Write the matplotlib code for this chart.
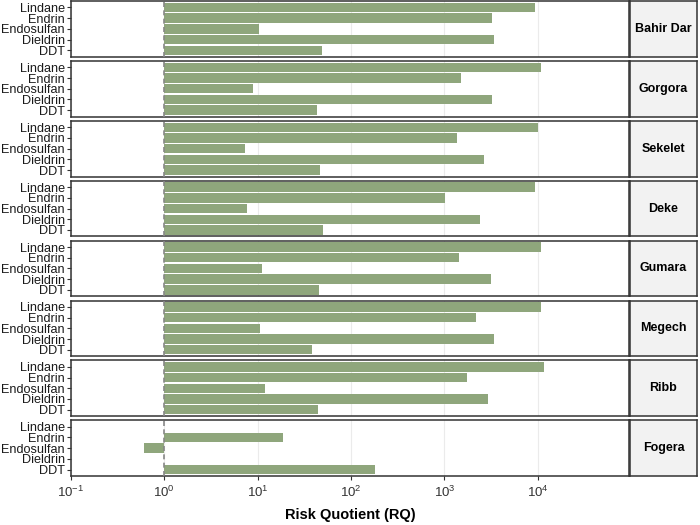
import numpy as np
import matplotlib
matplotlib.use("Agg")
import matplotlib.pyplot as plt

plt.rcParams['font.family'] = ['Liberation Sans', 'DejaVu Sans']
plt.rcParams['mathtext.fontset'] = 'custom'
plt.rcParams['mathtext.rm'] = 'Liberation Sans'
plt.rcParams['mathtext.it'] = 'Liberation Sans'

# sites (facet rows, top to bottom)
sites = ["Bahir Dar", "Gorgora", "Sekelet", "Deke", "Gumara", "Megech", "Ribb", "Fogera"]
# pesticides, bottom to top within each panel
pesticides = ["DDT", "Dieldrin", "Endosulfan", "Endrin", "Lindane"]

# risk quotients per site, same order as pesticides (nan = no bar)
rq_bahir_dar = [49, 3400, 10.4, 3200, 9300]
rq_gorgora = [43.5, 3270, 9.0, 1520, 10900]
rq_sekelet = [46.4, 2670, 7.3, 1380, 10100]
rq_deke = [49.9, 2420, 7.6, 1010, 9380]
rq_gumara = [45.2, 3140, 11.2, 1440, 10960]
rq_megech = [38, 3380, 10.6, 2170, 10770]
rq_ribb = [44.1, 2940, 11.9, 1740, 11700]
rq_fogera = [178.6, np.nan, 0.605, 18.9, np.nan]

all_rq = [rq_bahir_dar, rq_gorgora, rq_sekelet, rq_deke,
          rq_gumara, rq_megech, rq_ribb, rq_fogera]

bar_col = "#8FA67C"
W, H = 700, 525
fig = plt.figure(figsize=(7, 5.25), dpi=100)

left, right = 71, 629
strip_r = 697
top, bottom = 1, 476
gap = 4.2
ph = (bottom - top - gap * 7) / 8

for i, (site, vals) in enumerate(zip(sites, all_rq)):
    y0 = top + i * (ph + gap)
    ax = fig.add_axes([left / W, 1 - (y0 + ph) / H, (right - left) / W, ph / H])
    ypos = np.arange(1, 6)
    v = np.array(vals, dtype=float)
    ok = ~np.isnan(v)
    ax.barh(ypos[ok], v[ok] - 1, left=1, height=0.88, color=bar_col, zorder=2)
    ax.set_xscale('log')
    ax.set_xlim(0.1, 9.5e4)
    ax.set_ylim(0.4, 5.6)
    ax.axvline(1, color='#888888', ls=(0, (3, 2)), lw=1.2, zorder=3)
    ax.set_xticks([1e-1, 1, 1e1, 1e2, 1e3, 1e4])
    ax.xaxis.set_minor_locator(matplotlib.ticker.NullLocator())
    ax.grid(axis='x', color='#EBEBEB', lw=0.8, zorder=0)
    ax.set_yticks(ypos)
    ax.set_yticklabels(pesticides, fontsize=9.1, color='#1a1a1a')
    ax.tick_params(axis='y', length=3, width=0.8, color='#333333', pad=1.5)
    for s in ax.spines.values():
        s.set_color('#333333')
        s.set_linewidth(1.1)
    if i == len(sites) - 1:
        ax.set_xticklabels([r'$10^{-1}$', r'$10^{0}$', r'$10^{1}$', r'$10^{2}$',
                            r'$10^{3}$', r'$10^{4}$'], fontsize=9.5, color='#333333')
        ax.tick_params(axis='x', length=3, width=0.8, color='#333333', pad=3)
        ax.set_xlabel("Risk Quotient (RQ)", fontsize=10.5, fontweight='bold', labelpad=6)
    else:
        ax.tick_params(axis='x', length=0, labelbottom=False)

    sx = fig.add_axes([(right + 1) / W, 1 - (y0 + ph) / H, (strip_r - right - 1) / W, ph / H])
    sx.set_facecolor('#F2F2F2')
    sx.set_xticks([])
    sx.set_yticks([])
    for s in sx.spines.values():
        s.set_color('#333333')
        s.set_linewidth(1.1)
    sx.text(0.5, 0.5, site, ha='center', va='center', fontsize=9,
            fontweight='bold', transform=sx.transAxes)

fig.savefig("out.png", dpi=100)
